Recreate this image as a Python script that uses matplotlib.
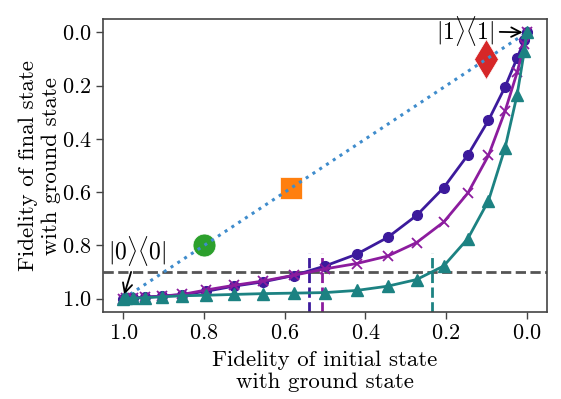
import matplotlib
matplotlib.use('Agg')
import matplotlib.pyplot as plt

plt.rcParams['font.family'] = 'serif'
plt.rcParams['font.serif'] = ['cmr10', 'DejaVu Serif']
plt.rcParams['mathtext.fontset'] = 'cm'
plt.rcParams['axes.formatter.use_mathtext'] = True

# ── Data ──────────────────────────────────────────────────────────────────────
x_init = [1.0, 0.994, 0.976, 0.946, 0.905, 0.854, 0.794, 0.727, 0.655, 0.578,
          0.5, 0.422, 0.345, 0.273, 0.206, 0.146, 0.095, 0.054, 0.024, 0.006, 0.0]

y_circle = [1.0, 0.999, 0.997, 0.994, 0.99, 0.985, 0.972, 0.953, 0.937, 0.913,
            0.877, 0.833, 0.77, 0.687, 0.583, 0.46, 0.33, 0.205, 0.096, 0.03, 0.0]
y_cross = [1.0, 0.999, 0.997, 0.995, 0.99, 0.984, 0.967, 0.95, 0.934, 0.912,
           0.888, 0.868, 0.84, 0.789, 0.712, 0.603, 0.462, 0.296, 0.15, 0.045, 0.0]
y_tri = [1.0, 0.999, 0.998, 0.996, 0.993, 0.989, 0.987, 0.984, 0.981, 0.979,
         0.977, 0.969, 0.953, 0.928, 0.877, 0.774, 0.632, 0.434, 0.234, 0.068, 0.0]

diag_x = [1.0, 0.0]
diag_y = [1.0, 0.0]

special_pts = [0.8, 0.585, 0.1]          # green circle, orange square, red diamond
special_mk = ['o', 's', 'd']
special_col = ['#2ca02c', '#ff7f0e', '#d62728']
special_ms = [16.5, 16.5, 20]

threshold = 0.9
cross_circle = 0.54
cross_cross = 0.508
cross_tri = 0.236

C_IND = '#3c1a9c'
C_MAG = '#8c1c9e'
C_TEAL = '#1c8282'

# ── Plot ──────────────────────────────────────────────────────────────────────
fig = plt.figure(figsize=(5.61, 3.99), dpi=100)
ax = fig.add_axes([0.184, 0.218, 0.791, 0.734])

for xv, mk, col, ms in zip(special_pts, special_mk, special_col, special_ms):
    ax.plot([xv], [xv], marker=mk, color=col, markersize=ms,
            markeredgecolor='white', markeredgewidth=0.5, linestyle='none', zorder=2)
ax.plot(diag_x, diag_y, linestyle=':', color='#3f8ccc', linewidth=2.2, zorder=3)

ax.axhline(threshold, color='#555555', linestyle='--', linewidth=2, zorder=1)
ax.axvline(cross_circle, ymax=0.2, color=C_IND, linestyle='--', linewidth=2)
ax.axvline(cross_cross, ymax=0.2, color=C_MAG, linestyle='--', linewidth=2)
ax.axvline(cross_tri, ymax=0.2, color=C_TEAL, linestyle='--', linewidth=2)

ax.plot(x_init, y_circle, marker='o', color=C_IND, linewidth=2, markersize=7, zorder=4)
ax.plot(x_init, y_cross, marker='x', color=C_MAG, linewidth=2, markersize=7.5,
        markeredgewidth=1.3, zorder=5)
ax.plot(x_init, y_tri, marker='^', color=C_TEAL, linewidth=2, markersize=8, zorder=6)

ax.annotate(r'$|1\rangle\langle 1|$', xy=(0.0, 0.0), xytext=(0.153, -0.005),
            ha='center', va='center', fontsize=17,
            arrowprops=dict(arrowstyle='->', color='black', lw=1.3, shrinkA=2, shrinkB=3))
ax.annotate(r'$|0\rangle\langle 0|$', xy=(1.0, 0.995), xytext=(0.965, 0.82),
            ha='center', va='center', fontsize=17,
            arrowprops=dict(arrowstyle='->', color='black', lw=1.3, shrinkA=1, shrinkB=2))

ax.set_xlim(1.05, -0.05)
ax.set_ylim(1.05, -0.05)
ax.set_xticks([1.0, 0.8, 0.6, 0.4, 0.2, 0.0])
ax.set_yticks([0.0, 0.2, 0.4, 0.6, 0.8, 1.0])
ax.tick_params(labelsize=16, length=5, width=1, color='#444444')
for sp in ax.spines.values():
    sp.set_color('#444444')
    sp.set_linewidth(1.2)

ax.set_xlabel('Fidelity of initial state\nwith ground state', fontsize=16.5, linespacing=1.2)
ax.set_ylabel('Fidelity of final state\nwith ground state', fontsize=16.5, linespacing=1.2)
ax.xaxis.set_label_coords(0.5, -0.13)
ax.yaxis.set_label_coords(-0.095, 0.5)

fig.savefig('out.png', dpi=100)
